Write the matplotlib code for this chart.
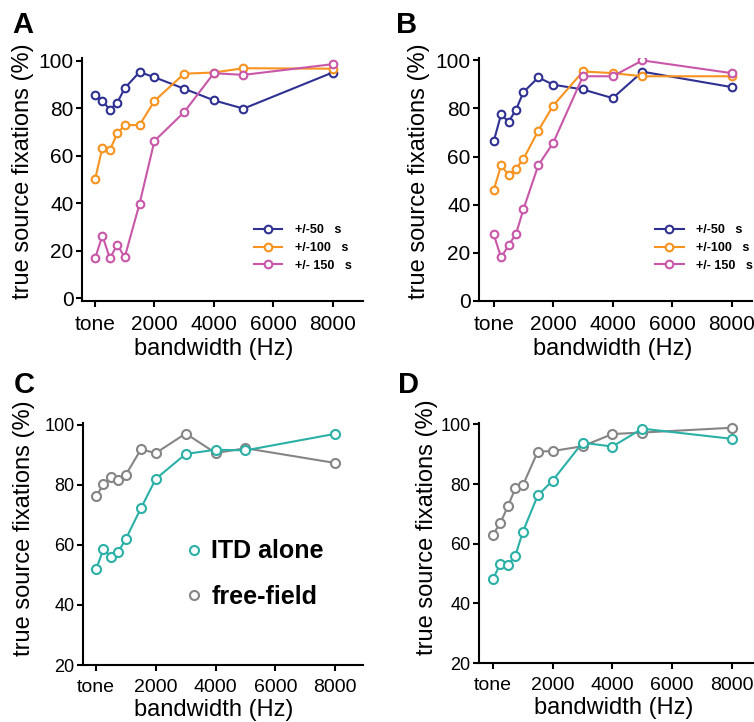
import matplotlib
matplotlib.use("Agg")
import matplotlib.pyplot as plt

plt.rcParams['font.family'] = ['Liberation Sans', 'DejaVu Sans']

# bandwidth positions (Hz), 0 = tone
bw = [0, 250, 500, 750, 1000, 1500, 2000, 3000, 4000, 5000, 8000]
xtick_pos = [0, 2000, 4000, 6000, 8000]
xtick_labels = ['tone', '2000', '4000', '6000', '8000']

# panel A
a_50 = [85.6, 83, 79.4, 82.3, 88.4, 95.2, 93, 88.2, 83.3, 79.8, 95]
a_100 = [50, 63.4, 62.4, 69.4, 72.9, 72.9, 83, 94.5, 95, 96.8, 96.6]
a_150 = [16.8, 26.4, 16.8, 22.6, 17.3, 39.8, 66.2, 78.3, 94.7, 94, 98.5]

# panel B
b_50 = [66.3, 77.6, 74.4, 79.5, 86.8, 92.9, 89.9, 87.9, 84.3, 95.3, 88.9]
b_100 = [46, 56.4, 52.2, 55, 59, 70.8, 81.2, 95.4, 94.7, 93.4, 93.4]
b_150 = [27.6, 18, 23.1, 27.8, 38.1, 56.4, 65.7, 93.4, 93.4, 100, 94.7]

# panel C
c_itd = [51.8, 58.5, 56, 57.7, 62, 72.1, 81.9, 90.2, 91.6, 91.4, 96.9]
c_free = [76.1, 80.1, 82.5, 81.7, 83.3, 91.7, 90.5, 97, 90.5, 92.1, 87.2]

# panel D
d_itd = [48.2, 53.3, 53, 56, 64, 76.2, 81.2, 93.9, 92.6, 98.6, 95.2]
d_free = [63.1, 67, 72.6, 78.6, 79.6, 90.9, 91.1, 92.7, 96.8, 97.3, 98.9]

win_labels = ['+/-50   s', '+/-100   s', '+/- 150   s']
cond_labels = ['ITD alone', 'free-field']

BLUE = '#2e3192'
ORANGE = '#f7931e'
PINK = '#c957a9'
TEAL = '#2bb0a7'
GRAY = '#858585'

fig = plt.figure(figsize=(7.54, 7.22), dpi=100)

W, H = 754.0, 722.0


def ax_at(left, right, top, bottom):
    return fig.add_axes([left / W, 1 - bottom / H, (right - left) / W, (bottom - top) / H])


def style(ax, xlim, ylim, yticks, ysize, xsize, ylab_xy, xlab_xy):
    ax.set_xlim(*xlim)
    ax.set_ylim(*ylim)
    ax.set_xticks(xtick_pos)
    ax.set_xticklabels(xtick_labels)
    ax.set_yticks(yticks)
    for s in ['top', 'right']:
        ax.spines[s].set_visible(False)
    for s in ['left', 'bottom']:
        ax.spines[s].set_linewidth(1.5)
    ax.tick_params(width=1.5, length=4)
    ax.tick_params(axis='y', labelsize=ysize, pad=2)
    ax.tick_params(axis='x', labelsize=xsize, pad=6)
    ax.set_xlabel('bandwidth (Hz)', fontsize=17)
    ax.set_ylabel('true source fixations (%)', fontsize=17)
    ax.yaxis.set_label_coords(*ylab_xy)
    ax.xaxis.set_label_coords(*xlab_xy)
    ax.yaxis.label.set_va('center')
    ax.xaxis.label.set_va('center')


def plot_series(ax, y, color, label, ms=5.5):
    ax.plot(bw, y, '-o', color=color, lw=1.5, ms=ms, mfc='white',
            mec=color, mew=1.5, label=label)


axA = ax_at(82, 363, 58, 301)
for y, c, l in zip([a_50, a_100, a_150], [BLUE, ORANGE, PINK], win_labels):
    plot_series(axA, y, c, l)
style(axA, (-438, 9024), (-1.1, 101.1), [0, 20, 40, 60, 80, 100], 15, 15,
      (-0.21, 0.535), (0.47, -0.198))
axA.legend(loc='lower right', bbox_to_anchor=(1.0, 0.075), frameon=False,
           prop={'weight': 'bold', 'size': 9}, handlelength=2.3,
           labelspacing=0.45, handletextpad=1.0)

axB = ax_at(479, 752, 58, 301)
for y, c, l in zip([b_50, b_100, b_150], [BLUE, ORANGE, PINK], win_labels):
    plot_series(axB, y, c, l)
style(axB, (-494, 8682), (-0.1, 101), [0, 20, 40, 60, 80, 100], 15, 15,
      (-0.22, 0.535), (0.49, -0.198))
axB.legend(loc='lower right', bbox_to_anchor=(1.045, 0.075), frameon=False,
           prop={'weight': 'bold', 'size': 9}, handlelength=2.3,
           labelspacing=0.45, handletextpad=1.0)

axC = ax_at(83, 363, 423, 665)
plot_series(axC, c_free, GRAY, cond_labels[1], ms=6.5)
plot_series(axC, c_itd, TEAL, cond_labels[0], ms=6.5)
style(axC, (-435, 8930), (20, 100.5), [20, 40, 60, 80, 100], 13, 14,
      (-0.21, 0.565), (0.468, -0.187))
h, l = axC.get_legend_handles_labels()
lgC = axC.legend(h[::-1], l[::-1], loc='lower left', bbox_to_anchor=(0.315, 0.14),
                 frameon=False, prop={'weight': 'bold', 'size': 18},
                 handlelength=0, handletextpad=0.7, labelspacing=0.85)
for ln in lgC.get_lines():
    ln.set_linestyle('None')

axD = ax_at(479, 753, 423, 663)
plot_series(axD, d_free, GRAY, cond_labels[1], ms=6.5)
plot_series(axD, d_itd, TEAL, cond_labels[0], ms=6.5)
style(axD, (-469, 8713), (20, 100.5), [20, 40, 60, 80, 100], 13, 14,
      (-0.19, 0.565), (0.49, -0.187))

for txt, x, y in [('A', 12, 11), ('B', 396, 11), ('C', 14, 371), ('D', 398, 371)]:
    fig.text(x / W, 1 - y / H, txt, fontsize=21, fontweight='bold', va='top', ha='left')

fig.savefig('out.png', dpi=100)
